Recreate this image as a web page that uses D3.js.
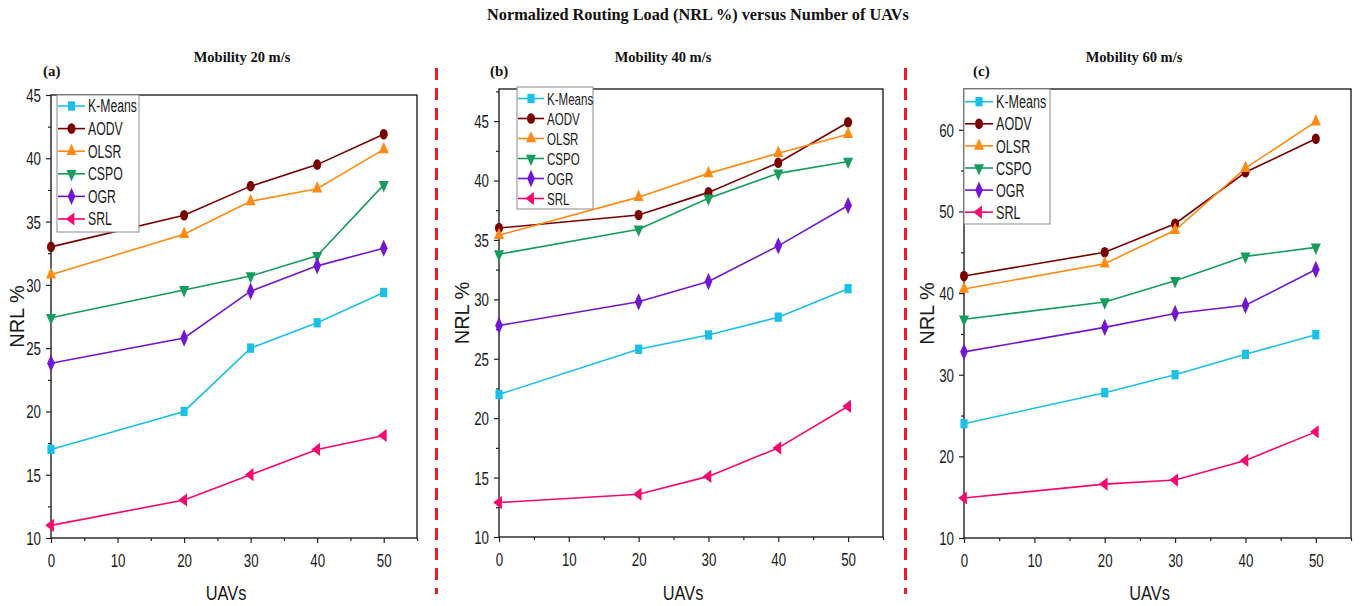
<!DOCTYPE html>
<html>
<head>
<meta charset="utf-8">
<script src="https://cdn.jsdelivr.net/npm/d3@7"></script>
<style>
  body { margin: 0; background: #fff; }
  svg { display: block; }
  .tick text { font-family: "Liberation Sans", Arial, sans-serif; fill: #1a1a1a; }
</style>
</head>
<body>
<div id="chart"></div>
<script>
// data
const uavs = [0, 20, 30, 40, 50];
const methods = ["K-Means", "AODV", "OLSR", "CSPO", "OGR", "SRL"];
const colors = ["#1cbfe6", "#7a0000", "#ff8a14", "#169c5c", "#7316d4", "#f5086f"];

// NRL % per method (rows follow `methods`)
const nrl20 = [
  [17.0, 20.0, 25.0, 27.0, 29.4],
  [33.0, 35.5, 37.8, 39.5, 41.9],
  [30.8, 34.0, 36.6, 37.6, 40.7],
  [27.4, 29.6, 30.7, 32.3, 37.9],
  [23.8, 25.8, 29.5, 31.5, 32.9],
  [11.0, 13.0, 15.0, 17.0, 18.1],
];
const nrl40 = [
  [22.0, 25.8, 27.0, 28.5, 30.9],
  [36.0, 37.1, 39.0, 41.5, 44.9],
  [35.4, 38.6, 40.6, 42.3, 43.9],
  [33.8, 35.9, 38.5, 40.6, 41.6],
  [27.8, 29.8, 31.5, 34.5, 37.9],
  [12.9, 13.6, 15.1, 17.5, 21.0],
];
const nrl60 = [
  [24.0, 27.8, 30.0, 32.5, 34.9],
  [42.1, 45.0, 48.5, 54.8, 58.9],
  [40.5, 43.6, 47.7, 55.3, 61.0],
  [36.8, 38.9, 41.5, 44.5, 45.6],
  [32.8, 35.8, 37.5, 38.5, 42.9],
  [14.9, 16.6, 17.1, 19.5, 23.0],
];

const xTicks = [0, 10, 20, 30, 40, 50];
const xMinor = [5, 15, 25, 35, 45, 55];

// layout of the three panels
const panels = [
  {
    data: nrl20, label: "(a)", title: "Mobility 20 m/s",
    left: 51, right: 417, top: 95, bottom: 538, yMax: 45,
    yTicks: d3.range(10, 46, 5), yMinor: d3.range(12.5, 45, 5),
    titleX: 242, tagX: 43,
    legend: { x0: 57, x1: 139, y0: 95, y1: 232, rowY: 106, rowH: 22.6, lineX: 58, lineW: 27, font: 18, sx: 0.68 },
    yLabelX: 17,
  },
  {
    data: nrl40, label: "(b)", title: "Mobility 40 m/s",
    left: 499, right: 883, top: 89, bottom: 537, yMax: 47.7,
    yTicks: d3.range(10, 46, 5), yMinor: d3.range(12.5, 48, 5),
    titleX: 663, tagX: 490,
    legend: { x0: 517, x1: 593, y0: 87, y1: 209, rowY: 98.5, rowH: 20, lineX: 518, lineW: 26, font: 17, sx: 0.68 },
    yLabelX: 462,
  },
  {
    data: nrl60, label: "(c)", title: "Mobility 60 m/s",
    left: 964, right: 1351, top: 89, bottom: 538, yMax: 65,
    yTicks: d3.range(10, 61, 10), yMinor: d3.range(15, 65, 10),
    titleX: 1134, tagX: 973,
    legend: { x0: 964, x1: 1050, y0: 89, y1: 224, rowY: 101.7, rowH: 22.1, lineX: 965, lineW: 28, font: 18.5, sx: 0.68 },
    yLabelX: 927,
  },
];

// marker per method: d3 symbol, rotation, area
const markers = [
  { type: d3.symbolSquare, rot: 0, size: 70 },
  { type: d3.symbolCircle, rot: 0, size: 70 },
  { type: d3.symbolTriangle, rot: 0, size: 60 },
  { type: d3.symbolTriangle, rot: 180, size: 60 },
  { type: d3.symbolDiamond, rot: 0, size: 70 },
  { type: d3.symbolTriangle, rot: -90, size: 60 },
];

const width = 1367, height = 606;
const svg = d3.select("#chart").append("svg")
  .attr("width", width)
  .attr("height", height);

const serif = "'Liberation Serif', 'Times New Roman', serif";
const sans = "'Liberation Sans', Arial, sans-serif";
const tickFont = 18, tickSx = 0.74; // condensed look of the original labels

svg.append("text")
  .attr("x", 698).attr("y", 20)
  .attr("text-anchor", "middle")
  .attr("font-family", serif)
  .attr("font-weight", "bold")
  .attr("font-size", 16.3)
  .attr("fill", "#111")
  .text("Normalized Routing Load (NRL %) versus Number of UAVs");

// red dashed separators
[436.5, 905.5].forEach((x) => {
  svg.append("line")
    .attr("x1", x).attr("x2", x)
    .attr("y1", 68).attr("y2", 594)
    .attr("stroke", "#ee1c24")
    .attr("stroke-width", 3)
    .attr("stroke-dasharray", "12,8");
});

function marker(i, x, y) {
  const m = markers[i];
  return {
    d: d3.symbol().type(m.type).size(m.size)(),
    t: `translate(${x},${y}) scale(0.85,1.12) rotate(${m.rot})`,
  };
}

panels.forEach((p) => {
  const x = d3.scaleLinear().domain([0, 55]).range([p.left, p.right]);
  const y = d3.scaleLinear().domain([10, p.yMax]).range([p.bottom, p.top]);
  const g = svg.append("g");

  // titles
  g.append("text")
    .attr("x", p.titleX).attr("y", 62)
    .attr("text-anchor", "middle")
    .attr("font-family", serif).attr("font-weight", "bold")
    .attr("font-size", 14.5).attr("fill", "#111")
    .text(p.title);
  g.append("text")
    .attr("x", p.tagX).attr("y", 76)
    .attr("font-family", serif).attr("font-weight", "bold")
    .attr("font-size", 15).attr("fill", "#111")
    .text(p.label);

  // axes
  const xAxis = g.append("g").attr("transform", `translate(0,${p.bottom})`)
    .call(d3.axisBottom(x).tickValues(xTicks).tickSize(5));
  g.append("g").attr("transform", `translate(0,${p.bottom})`)
    .call(d3.axisBottom(x).tickValues(xMinor).tickSize(3).tickFormat(""));
  const yAxis = g.append("g").attr("transform", `translate(${p.left},0)`)
    .call(d3.axisLeft(y).tickValues(p.yTicks).tickSize(5));
  g.append("g").attr("transform", `translate(${p.left},0)`)
    .call(d3.axisLeft(y).tickValues(p.yMinor).tickSize(3).tickFormat(""));

  g.selectAll(".domain").remove();
  g.selectAll(".tick line").attr("stroke", "#222").attr("stroke-width", 1.2);
  xAxis.selectAll("text")
    .attr("font-size", tickFont)
    .attr("y", 16).attr("dy", "0.71em")
    .attr("transform", `scale(${tickSx},1)`);
  yAxis.selectAll("text")
    .attr("font-size", tickFont)
    .attr("x", -10 / tickSx).attr("dy", "0.36em")
    .attr("transform", `scale(${tickSx},1)`);

  g.append("rect")
    .attr("x", p.left).attr("y", p.top)
    .attr("width", p.right - p.left).attr("height", p.bottom - p.top)
    .attr("fill", "none").attr("stroke", "#222").attr("stroke-width", 1.4);

  // axis labels
  g.append("text")
    .attr("transform", `translate(${(p.left + p.right) / 2 - 8},600) scale(0.78,1)`)
    .attr("text-anchor", "middle")
    .attr("font-family", sans).attr("font-size", 21).attr("fill", "#1a1a1a")
    .text("UAVs");
  g.append("text")
    .attr("transform", `translate(${p.yLabelX + 7},${(p.top + p.bottom) / 2}) rotate(-90)`)
    .attr("text-anchor", "middle")
    .attr("font-family", sans)
    .attr("font-size", 20).attr("fill", "#1a1a1a")
    .text("NRL %");

  // series
  const line = d3.line().x((d, j) => x(uavs[j])).y((d) => y(d));
  p.data.forEach((vals, i) => {
    g.append("path")
      .attr("d", line(vals))
      .attr("fill", "none")
      .attr("stroke", colors[i])
      .attr("stroke-width", 1.6);
    g.selectAll(null)
      .data(vals)
      .join("path")
      .each(function (d, j) {
        const mk = marker(i, x(uavs[j]), y(d));
        d3.select(this).attr("d", mk.d).attr("transform", mk.t);
      })
      .attr("fill", colors[i]);
  });

  // legend
  const L = p.legend;
  const lg = g.append("g");
  lg.append("rect")
    .attr("x", L.x0).attr("y", L.y0)
    .attr("width", L.x1 - L.x0).attr("height", L.y1 - L.y0)
    .attr("fill", "#fff").attr("stroke", "#8a8a8a").attr("stroke-width", 1);
  methods.forEach((name, i) => {
    const ry = L.rowY + i * L.rowH;
    lg.append("line")
      .attr("x1", L.lineX).attr("x2", L.lineX + L.lineW)
      .attr("y1", ry).attr("y2", ry)
      .attr("stroke", colors[i]).attr("stroke-width", 1.6);
    const mk = marker(i, L.lineX + L.lineW / 2, ry);
    lg.append("path").attr("d", mk.d).attr("transform", mk.t).attr("fill", colors[i]);
    lg.append("text")
      .attr("transform", `translate(${L.lineX + L.lineW + 3},${ry}) scale(${L.sx},1)`)
      .attr("dy", "0.36em")
      .attr("font-family", sans).attr("font-size", L.font).attr("fill", "#1a1a1a")
      .text(name);
  });
});
</script>
</body>
</html>
